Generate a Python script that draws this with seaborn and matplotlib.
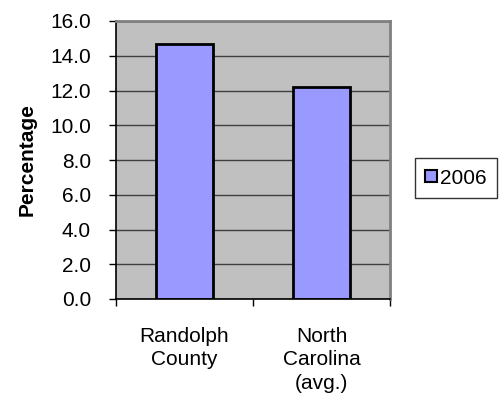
import matplotlib
matplotlib.use("Agg")
import matplotlib.pyplot as plt
import seaborn as sns
import pandas as pd

categories = ["Randolph\nCounty", "North\nCarolina\n(avg.)"]
values = [14.7, 12.2]
series = ["2006", "2006"]
yticks = [0, 2, 4, 6, 8, 10, 12, 14, 16]

sns.set_style("white")
plt.rcParams['font.family'] = ['Liberation Sans', 'DejaVu Sans']
plt.rcParams['text.color'] = 'black'
plt.rcParams['xtick.color'] = 'black'
plt.rcParams['ytick.color'] = 'black'
plt.rcParams['axes.labelcolor'] = 'black'

df = pd.DataFrame({"cat": categories, "val": values, "year": series})

fig = plt.figure(figsize=(4.99, 3.98), dpi=100)
ax = fig.add_axes([116/499, 1 - 299/398, (390 - 116)/499, (299 - 21)/398])
ax.set_facecolor("#C0C0C0")
sns.barplot(data=df, x="cat", y="val", hue="year", palette=["#9999FF"], saturation=1,
            width=0.41, edgecolor="black", linewidth=2, ax=ax, legend=True)

fs = 15
ax.set_ylim(0, 16)
ax.set_xlim(-0.5, 1.5)
ax.set_yticks(yticks)
ax.set_yticklabels([f"{v:.1f}" for v in yticks], fontsize=fs)
ax.yaxis.grid(True, color="#404040", linewidth=1)
ax.set_axisbelow(True)
ax.tick_params(axis="y", direction="out", length=5, width=1, color="black", pad=13, left=True)
ax.set_xticks([0, 1])
ax.set_xticklabels(categories, fontsize=fs, linespacing=1.3, va="top")
ax.tick_params(axis="x", which="major", length=0, pad=20)
ax.set_xticks([-0.5, 0.5, 1.5], minor=True)
ax.tick_params(axis="x", which="minor", direction="out", length=5, width=1, color="black", bottom=True)
ax.set_xlabel("")
ax.set_ylabel("Percentage", fontsize=fs, fontweight="bold", labelpad=10)

for s in ["left", "bottom"]:
    ax.spines[s].set_color("black")
    ax.spines[s].set_linewidth(1.2)
for s in ["top", "right"]:
    ax.spines[s].set_color("#808080")
    ax.spines[s].set_linewidth(2)

leg = ax.legend(loc="center left", bbox_to_anchor=(415/499, 1 - 178/398),
                bbox_transform=fig.transFigure, frameon=True, fancybox=False,
                fontsize=fs, handlelength=0.55, handleheight=0.55, handletextpad=0.15,
                borderpad=0.5, borderaxespad=0)
leg.get_frame().set_edgecolor("black")
leg.get_frame().set_linewidth(1)
for h in leg.legend_handles:
    h.set_linewidth(1.5)
    h.set_edgecolor("black")

fig.savefig("out.png", dpi=100)
